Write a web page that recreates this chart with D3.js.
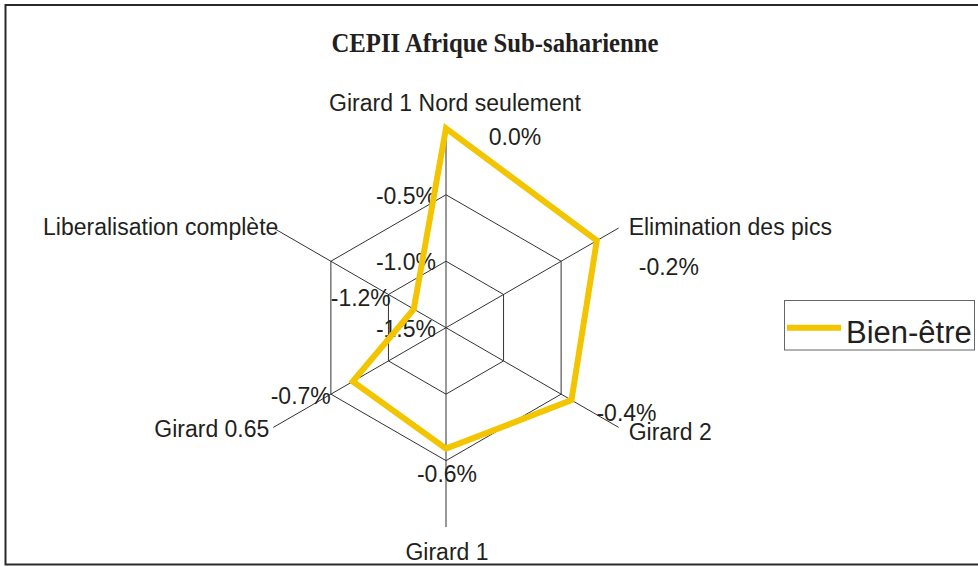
<!DOCTYPE html>
<html>
<head>
<meta charset="utf-8">
<script src="https://cdn.jsdelivr.net/npm/d3@7"></script>
<style>
  html, body { margin: 0; padding: 0; background: #fff; }
  svg { display: block; }
  text { font-family: "Liberation Sans", Arial, sans-serif; fill: #231f20; }
</style>
</head>
<body>
<svg id="chart" width="978" height="567"></svg>
<script>
// ---- data ----
const title = "CEPII Afrique Sub-saharienne";
const categories = ["Girard 1 Nord seulement", "Elimination des pics", "Girard 2", "Girard 1", "Girard 0.65", "Liberalisation complète"];
const seriesName = "Bien-être";
const values = [0.0, -0.19, -0.41, -0.59, -0.69, -1.22];   // % welfare change
const tickValues = [-1.5, -1.0, -0.5];
const tickLabels = ["-1.5%", "-1.0%", "-0.5%"];
const gridLevels = [-1.0, -0.5];

// ---- layout ----
const svg = d3.select("#chart");
const W = 978, H = 567;
const cx = 446, cy = 327.7, R = 199.4;
const yellow = "#F2C500";
const gridColor = "#333";
const fs = "23px";

const rScale = d3.scaleLinear().domain([-1.5, 0]).range([0, R]);
const angle = d3.scalePoint().domain(categories).range([0, 2 * Math.PI * (categories.length - 1) / categories.length]);

// frame (top, left, bottom only)
svg.append("path")
  .attr("d", `M${W},5 L5.5,5 L5.5,564.5 L${W},564.5`)
  .attr("fill", "none").attr("stroke", "#2a2a2a").attr("stroke-width", 2);

// title
svg.append("text")
  .attr("x", 495).attr("y", 43)
  .attr("text-anchor", "middle").attr("dominant-baseline", "central")
  .attr("textLength", 327).attr("lengthAdjust", "spacingAndGlyphs")
  .style("font-family", "'Liberation Serif', 'Times New Roman', serif")
  .style("font-weight", "bold").style("font-size", "27px")
  .text(title);

const g = svg.append("g").attr("transform", `translate(${cx},${cy})`);

const pt = (cat, v) => {
  const a = angle(cat), r = rScale(v);
  return [r * Math.sin(a), -r * Math.cos(a)];
};

// grid rings
const ringLine = d3.lineRadial().angle(d => angle(d.c)).radius(d => rScale(d.v)).curve(d3.curveLinearClosed);
gridLevels.forEach(lv => {
  g.append("path")
    .attr("d", ringLine(categories.map(c => ({c, v: lv}))))
    .attr("fill", "none").attr("stroke", gridColor).attr("stroke-width", 1);
});

// axes
categories.forEach(c => {
  const [x, y] = pt(c, 0);
  g.append("line").attr("x1", 0).attr("y1", 0).attr("x2", x).attr("y2", y)
    .attr("stroke", gridColor).attr("stroke-width", 1);
});

// tick labels along the first axis
tickValues.forEach((t, i) => {
  const [x, y] = pt(categories[0], t);
  g.append("text")
    .attr("x", x - 10).attr("y", y + 1)
    .attr("text-anchor", "end").attr("dominant-baseline", "central")
    .style("font-size", fs)
    .text(tickLabels[i]);
});

// category labels
categories.forEach(c => {
  const a = angle(c);
  const [x, y] = pt(c, 0);
  const s = Math.sin(a), co = Math.cos(a);
  let anchor, dx, dy;
  if (Math.abs(s) < 0.01) {
    anchor = "middle"; dx = co > 0 ? 9 : 1; dy = co > 0 ? -25 : 25;
  } else if (s > 0) {
    anchor = "start"; dx = 10; dy = co > 0 ? -1 : 5;
  } else {
    anchor = "end"; dx = co > 0 ? 5 : -4; dy = co > 0 ? -1 : 2;
  }
  g.append("text")
    .attr("x", x + dx).attr("y", y + dy)
    .attr("text-anchor", anchor).attr("dominant-baseline", "central")
    .style("font-size", fs)
    .text(c);
});

// series polygon
g.append("path")
  .datum(categories.map((c, i) => ({c, v: values[i]})))
  .attr("d", ringLine)
  .attr("fill", "none").attr("stroke", yellow).attr("stroke-width", 6)
  .attr("stroke-linejoin", "miter");

// value labels (offsets relative to each point)
const labelOffsets = [[69, 9], [72, 26], [55, 13], [1, 25], [-52, 14], [-53, -11]];
const fmt = v => v.toFixed(1) + "%";
categories.forEach((c, i) => {
  const [x, y] = pt(c, values[i]);
  g.append("text")
    .attr("x", x + labelOffsets[i][0]).attr("y", y + labelOffsets[i][1])
    .attr("text-anchor", "middle").attr("dominant-baseline", "central")
    .style("font-size", fs)
    .text(fmt(values[i]));
});

// legend
const lg = svg.append("g");
lg.append("rect").attr("x", 784.5).attr("y", 300.5).attr("width", 190).attr("height", 49.5)
  .attr("fill", "#fff").attr("stroke", "#666").attr("stroke-width", 1);
lg.append("line").attr("x1", 787).attr("x2", 841).attr("y1", 327.7).attr("y2", 327.7)
  .attr("stroke", yellow).attr("stroke-width", 6);
lg.append("text").attr("x", 846).attr("y", 342.7)
  .style("font-size", "31px").text(seriesName);
</script>
</body>
</html>
